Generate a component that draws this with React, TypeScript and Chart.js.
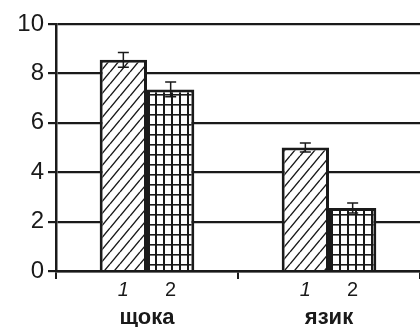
import React, { useEffect, useRef } from "react";
import { Chart, registerables } from "chart.js";

Chart.register(...registerables);

// Two groups, two measurements each
const categories = ["щока", "язик"];
const seriesLabels = ["1", "2"];
const series1 = [8.55, 5.0];
const series2 = [7.35, 2.55];
const errors1 = [0.3, 0.18];
const errors2 = [0.3, 0.2];
const yTicks = [0, 2, 4, 6, 8, 10];

const INK = "#1a1a1a";
const FONT = "'Liberation Sans', Arial, sans-serif";

function diagonalPattern(): CanvasPattern | string {
  const w = 10;
  const h = 12;
  const c = document.createElement("canvas");
  c.width = w;
  c.height = h;
  const g = c.getContext("2d");
  if (!g) return "#fff";
  g.fillStyle = "#fff";
  g.fillRect(0, 0, w, h);
  g.strokeStyle = INK;
  g.lineWidth = 1.4;
  g.beginPath();
  for (const dx of [-w, 0, w]) {
    g.moveTo(dx, h);
    g.lineTo(dx + w, 0);
  }
  g.stroke();
  return g.createPattern(c, "repeat") || "#fff";
}

function gridPattern(): CanvasPattern | string {
  const w = 8;
  const h = 10;
  const c = document.createElement("canvas");
  c.width = w;
  c.height = h;
  const g = c.getContext("2d");
  if (!g) return "#fff";
  g.fillStyle = "#fff";
  g.fillRect(0, 0, w, h);
  g.fillStyle = INK;
  g.fillRect(3, 0, 2, h);
  g.fillRect(0, 4, w, 1.6);
  return g.createPattern(c, "repeat") || "#fff";
}

const errorBars = {
  id: "errorBars",
  afterDatasetsDraw(chart: any) {
    const ctx = chart.ctx;
    const y = chart.scales.y;
    const errs = [errors1, errors2];
    ctx.save();
    ctx.strokeStyle = INK;
    ctx.lineWidth = 1.5;
    chart.data.datasets.forEach((ds: any, di: number) => {
      const meta = chart.getDatasetMeta(di);
      meta.data.forEach((bar: any, i: number) => {
        const v = ds.data[i];
        const e = errs[di][i];
        const top = y.getPixelForValue(v + e);
        const bot = y.getPixelForValue(v - e);
        const x = bar.x;
        ctx.beginPath();
        ctx.moveTo(x, top);
        ctx.lineTo(x, bot);
        ctx.moveTo(x - 5.5, top);
        ctx.lineTo(x + 5.5, top);
        ctx.moveTo(x - 5.5, bot);
        ctx.lineTo(x + 5.5, bot);
        ctx.stroke();
      });
    });
    ctx.restore();
  },
};

const axisLabels = {
  id: "axisLabels",
  afterDraw(chart: any) {
    const ctx = chart.ctx;
    const xs = chart.scales.x;
    ctx.save();
    ctx.fillStyle = INK;
    ctx.textAlign = "center";
    ctx.textBaseline = "alphabetic";
    chart.data.datasets.forEach((_ds: any, di: number) => {
      const meta = chart.getDatasetMeta(di);
      ctx.font = (di === 0 ? "italic " : "") + "20px " + FONT;
      meta.data.forEach((bar: any) => {
        ctx.fillText(seriesLabels[di], bar.x, 296);
      });
    });
    ctx.font = "bold 22px " + FONT;
    categories.forEach((c, i) => {
      ctx.fillText(c, xs.getPixelForValue(i), 324);
    });
    ctx.restore();
  },
};

export default function App() {
  const ref = useRef<HTMLCanvasElement>(null);

  useEffect(() => {
    if (!ref.current) return;
    const chart = new Chart(ref.current, {
      type: "bar",
      data: {
        labels: categories,
        datasets: [
          {
            label: seriesLabels[0],
            data: series1,
            backgroundColor: diagonalPattern() as any,
            borderColor: INK,
            borderWidth: 3,
          },
          {
            label: seriesLabels[1],
            data: series2,
            backgroundColor: gridPattern() as any,
            borderColor: INK,
            borderWidth: 3,
          },
        ],
      },
      options: {
        responsive: false,
        animation: false,
        layout: { padding: { top: 24, right: 0, left: 0, bottom: 0 } },
        datasets: {
          bar: { categoryPercentage: 0.52, barPercentage: 1 },
        },
        plugins: {
          legend: { display: false },
          tooltip: { enabled: false },
          title: { display: false },
        },
        scales: {
          x: {
            offset: true,
            afterFit(scale: any) {
              scale.height = 56;
            },
            ticks: { display: false },
            grid: {
              drawOnChartArea: false,
              drawTicks: true,
              tickLength: 8,
              lineWidth: 2,
              color: (c: any) => (c.index === 2 ? "rgba(0,0,0,0)" : INK),
              offset: true,
            },
            border: { display: true, color: INK, width: 2.5 },
          },
          y: {
            min: 0,
            max: 10,
            afterFit(scale: any) {
              scale.width = 56;
            },
            afterBuildTicks(scale: any) {
              scale.ticks = yTicks.map((v) => ({ value: v }));
            },
            ticks: {
              color: INK,
              padding: 4,
              font: { family: FONT, size: 24 },
            },
            grid: {
              color: INK,
              lineWidth: 2.2,
              tickLength: 8,
              drawTicks: true,
            },
            border: { display: true, color: INK, width: 2.5 },
          },
        },
      },
      plugins: [errorBars, axisLabels],
    });
    return () => chart.destroy();
  }, []);

  return (
    <div style={{ position: "fixed", left: 0, top: 0, width: 420, height: 327, background: "#fff" }}>
      <canvas ref={ref} width={420} height={327} style={{ display: "block" }} />
    </div>
  );
}
